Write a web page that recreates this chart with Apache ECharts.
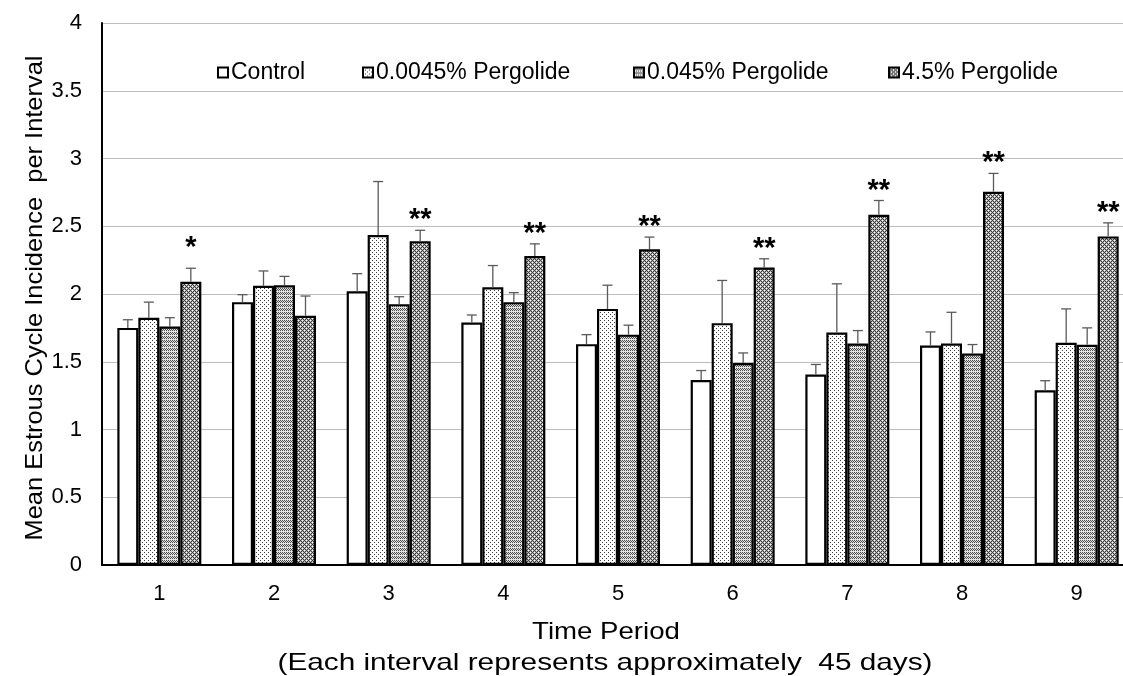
<!DOCTYPE html>
<html><head><meta charset="utf-8">
<script src="https://cdn.jsdelivr.net/npm/echarts@6/dist/echarts.min.js"></script>
<style>html,body{margin:0;padding:0;background:#fff}#c{width:1123px;height:676px}</style>
</head><body><div id="c"></div>
<script>
// ---- data ----
const categories = ['1','2','3','4','5','6','7','8','9'];
const seriesNames = ['Control','0.0045% Pergolide','0.045% Pergolide','4.5% Pergolide'];
const control     = [1.75, 1.94, 2.02, 1.79, 1.63, 1.365, 1.405, 1.62, 1.29];
const controlErr  = [0.06, 0.055, 0.13, 0.055, 0.07, 0.07, 0.075, 0.10, 0.07];
const low         = [1.825, 2.06, 2.435, 2.05, 1.89, 1.785, 1.715, 1.635, 1.64];
const lowErr      = [0.115, 0.11, 0.395, 0.16, 0.175, 0.315, 0.36, 0.23, 0.25];
const mid         = [1.76, 2.065, 1.925, 1.94, 1.70, 1.49, 1.635, 1.56, 1.625];
const midErr      = [0.065, 0.065, 0.055, 0.07, 0.07, 0.075, 0.095, 0.067, 0.125];
const high        = [2.09, 1.84, 2.39, 2.28, 2.33, 2.195, 2.585, 2.755, 2.425];
const highErr     = [0.10, 0.145, 0.08, 0.09, 0.09, 0.065, 0.105, 0.135, 0.10];
const stars       = ['*', '', '**', '**', '**', '**', '**', '**', '**'];
const yTicks      = [0, 0.5, 1, 1.5, 2, 2.5, 3, 3.5, 4];
const xTitle1 = 'Time Period';
const xTitle2 = '(Each interval represents approximately  45 days)';
const yTitle = 'Mean Estrous Cycle Incidence  per Interval';

// ---- patterns ----
function makePattern(size, bg, rules) {
  const c = document.createElement('canvas');
  c.width = size; c.height = size;
  const ctx = c.getContext('2d');
  ctx.fillStyle = bg; ctx.fillRect(0, 0, size, size);
  for (let y = 0; y < size; y++) for (let x = 0; x < size; x++) {
    const col = rules(x, y);
    if (col) { ctx.fillStyle = col; ctx.fillRect(x, y, 1, 1); }
  }
  return { image: c, repeat: 'repeat' };
}
const patLow = makePattern(4, '#ffffff', (x, y) => ((x === 0 && y === 0) || (x === 2 && y === 2)) ? '#3a3a3a' : null);
const patMid = makePattern(4, '#e4e4e4', (x, y) => ((y % 2 === 0 && x % 2 === 0) || (y === 1 && x % 2 === 1)) ? '#4a4a4a' : null);
const patHigh = makePattern(4, '#b6b6b6', (x, y) => {
  if (((x + y) % 4 === 0) || ((x - y + 4) % 4 === 0)) return '#3a3a3a';
  if ((x === 2 && y === 0) || (x === 0 && y === 2)) return '#ffffff';
  return null;
});
const fills = ['#ffffff', patLow, patMid, patHigh];

const values = [control, low, mid, high];
const errs = [controlErr, lowErr, midErr, highErr];
const BW = 21;
const FONT = "'Liberation Sans', Arial, sans-serif";

const barSeries = seriesNames.map((n, i) => ({
  name: n, type: 'bar', data: values[i], barWidth: BW, barGap: '0%',
  itemStyle: { color: fills[i], borderColor: '#000', borderWidth: 2.2 },
  emphasis: { disabled: true }, z: 2
}));

const errData = [];
values.forEach((arr, s) => arr.forEach((v, c) => errData.push([c, v, errs[s][c], s])));
const errSeries = {
  type: 'custom', name: 'err', z: 3, silent: true,
  encode: { x: 0, y: 1 },
  data: errData,
  renderItem: (params, api) => {
    const c = api.value(0), v = api.value(1), e = api.value(2), s = api.value(3);
    const p0 = api.coord([c, v]);
    const p1 = api.coord([c, v + e]);
    const x = p0[0] + (s - 1.5) * BW;
    const st = { stroke: '#5a5a5a', lineWidth: 1.3 };
    return { type: 'group', children: [
      { type: 'line', shape: { x1: x, y1: p0[1], x2: x, y2: p1[1] }, style: st },
      { type: 'line', shape: { x1: x - 5, y1: p1[1], x2: x + 5, y2: p1[1] }, style: st }
    ]};
  }
};

const starData = categories.map((c, i) => [i, high[i] + highErr[i]]);
const starSeries = {
  type: 'custom', name: 'stars', z: 4, silent: true,
  encode: { x: 0, y: 1 },
  data: starData,
  renderItem: (params, api) => {
    const i = api.value(0);
    const p = api.coord([i, api.value(1)]);
    const lift = stars[i].length === 1 ? 20 : 10;
    return { type: 'text', x: p[0] + 1.5 * BW, y: p[1] - lift,
      style: { text: stars[i], font: "bold 29px " + FONT, fill: '#000', align: 'center', verticalAlign: 'middle' } };
  }
};

const legendLefts = [217, 362, 633, 888];
const legends = seriesNames.map((n, i) => ({
  data: [n], left: legendLefts[i], top: 61, padding: 0, itemWidth: 10, itemHeight: 10, itemGap: 0,
  icon: 'rect', selectedMode: false,
  textStyle: { fontSize: 23, fontFamily: FONT, color: '#000', padding: [0, 0, 0, -2] }
}));

const chart = echarts.init(document.getElementById('c'), null, { renderer: 'canvas' });
chart.setOption({
  animation: false,
  backgroundColor: '#ffffff',
  legend: legends,
  grid: { left: 102, top: 23, width: 1032, height: 542, containLabel: false, outerBoundsMode: 'none' },
  xAxis: {
    type: 'category', data: categories,
    axisLine: { lineStyle: { color: '#000', width: 2 } },
    axisTick: { show: false },
    axisLabel: { fontSize: 22, fontFamily: FONT, color: '#000', margin: 18 }
  },
  yAxis: {
    type: 'value', min: yTicks[0], max: yTicks[yTicks.length - 1], interval: 0.5,
    axisLine: { show: true, lineStyle: { color: '#000', width: 2 } },
    axisTick: { show: false },
    splitLine: { lineStyle: { color: '#bdbdbd', width: 1 } },
    axisLabel: { fontSize: 22, fontFamily: FONT, color: '#000', margin: 20 }
  },
  graphic: [
    { type: 'text', x: 606, y: 632, scaleX: 1.15, style: { text: xTitle1, font: '24px ' + FONT, fill: '#000', align: 'center', verticalAlign: 'middle' } },
    { type: 'text', x: 605, y: 663, scaleX: 1.24, style: { text: xTitle2, font: '24px ' + FONT, fill: '#000', align: 'center', verticalAlign: 'middle' } },
    { type: 'text', x: 35, y: 298, rotation: Math.PI / 2, scaleX: 1.06, style: { text: yTitle, font: '24px ' + FONT, fill: '#000', align: 'center', verticalAlign: 'middle' } }
  ],
  series: [...barSeries, errSeries, starSeries]
});
</script>
</body></html>
